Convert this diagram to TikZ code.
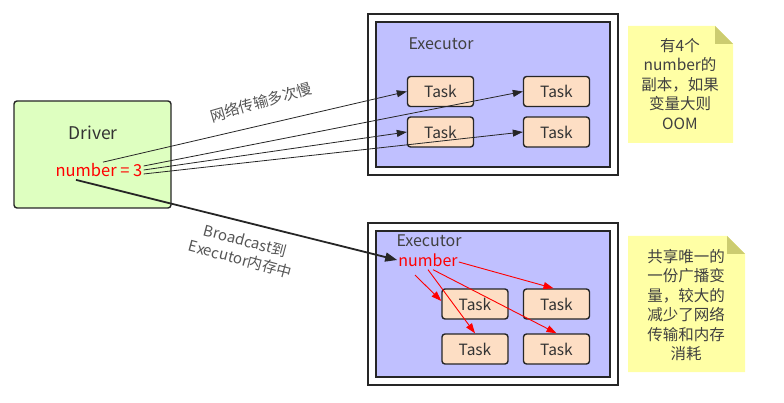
\documentclass[tikz,border=0pt]{standalone}
\usepackage{fontspec}
\setmainfont{Noto Sans CJK SC}
\usetikzlibrary{arrows.meta}
\definecolor{drvgreen}{RGB}{222,255,192}
\definecolor{exepurple}{RGB}{192,192,255}
\definecolor{taskpeach}{RGB}{253,222,196}
\definecolor{noteyellow}{RGB}{255,255,165}
\definecolor{notefold}{RGB}{204,204,112}
\definecolor{labelgray}{RGB}{85,85,85}

\tikzset{
  boxline/.style={draw=black!85, line width=1.4pt},
  task/.style={boxline, rounded corners=3pt, fill=taskpeach, minimum width=66pt, minimum height=30pt, font=\fontsize{15.5}{18}\selectfont, text=black!80},
  exeouter/.style={boxline, fill=white, minimum width=250pt},
  exeinner/.style={boxline, fill=exepurple, minimum width=234pt},
  send/.style={black!85, line width=0.8pt, -{Triangle[length=10pt,width=7pt]}},
  bcast/.style={black!85, line width=1.8pt, -{Triangle[length=12pt,width=9pt]}},
  share/.style={red, line width=0.9pt, -{Triangle[length=10pt,width=7pt]}},
  notetext/.style={align=center, font=\fontsize{15.5}{19.5}\selectfont, text=black!75},
  lbl/.style={text=labelgray, font=\fontsize{15}{19}\selectfont}
}

\begin{document}
\begin{tikzpicture}[x=1pt,y=-1pt]
  \useasboundingbox (0,0) rectangle (784,403);

  % Driver
  \node[boxline, rounded corners=3pt, fill=drvgreen, minimum width=157pt, minimum height=107pt] (driver) at (92.5,154.5) {};
  \node[font=\fontsize{17.5}{20}\selectfont, text=black!80] (drvname) at (93,133) {Driver};
  \node[font=\fontsize{16.5}{19}\selectfont, text=red, inner sep=1pt] (num1) at (99,170) {number = 3};

  % Executor without broadcast
  \node[exeouter, minimum height=161pt] (exe1) at (493,94.5) {};
  \node[exeinner, minimum height=145pt] (exe1in) at (493,94.5) {};
  \node[font=\fontsize{16}{19}\selectfont, text=black!75] (exe1name) at (441,44) {Executor};
  \foreach \c/\x in {1/440.5,2/556.5}
    \foreach \r/\y in {1/91.5,2/132}
      \node[task] (a\r\c) at (\x,\y) {Task};

  % Executor with broadcast
  \node[exeouter, minimum height=162pt] (exe2) at (493,304) {};
  \node[exeinner, minimum height=146pt] (exe2in) at (493,304) {};
  \node[font=\fontsize{16}{19}\selectfont, text=black!75] (exe2name) at (429,241) {Executor};
  \node[font=\fontsize{16}{19}\selectfont, text=red, inner sep=1pt] (num2) at (428,260) {number};
  \foreach \c/\x in {1/475,2/556.5}
    \foreach \r/\y in {1/304,2/349}
      \node[task] (b\r\c) at (\x,\y) {Task};

  % one copy per task
  \draw[send] ([xshift=4pt]num1.north) -- (a11.west);
  \draw[send] ([yshift=4pt]num1.east) -- (a12.west);
  \draw[send] (num1.east) -- (a21.west);
  \draw[send] ([yshift=-4pt]num1.east) -- (a22.west);
  \node[lbl, rotate=16] (slowlbl) at (261,102) {网络传输多次慢};

  % broadcast
  \draw[bcast] ([xshift=-23pt,yshift=-2pt]num1.south) -- (num2.west);
  \node[lbl, rotate=-15, align=center] (bclbl) at (243,250) {Broadcast到\\Executor内存中};
  \coordinate (bstart) at (415,275);
  \draw[share] ([yshift=-2pt]num2.east) -- ([xshift=-3pt]b12.north);
  \draw[share] (bstart) -- ([yshift=3pt]b11.west);
  \draw[share] ([yshift=-2pt]num2.south) -- (b21.north);
  \draw[share] ([xshift=5pt,yshift=-2pt]num2.south) -- (b22.north);

  % notes
  \fill[noteyellow] (628,26) -- (715,26) -- (733,44) -- (733,143) -- (628,143) -- cycle;
  \fill[notefold] (715,26) -- (715,44) -- (733,44) -- cycle;
  \node[notetext] (note1) at (680,84) {有4个\\number的\\副本，如果\\变量大则\\OOM};
  \fill[noteyellow] (628,236) -- (727,236) -- (745,254) -- (745,372) -- (628,372) -- cycle;
  \fill[notefold] (727,236) -- (727,254) -- (745,254) -- cycle;
  \node[notetext] (note2) at (686,305) {共享唯一的\\一份广播变\\量，较大的\\减少了网络\\传输和内存\\消耗};
\end{tikzpicture}
\end{document}
